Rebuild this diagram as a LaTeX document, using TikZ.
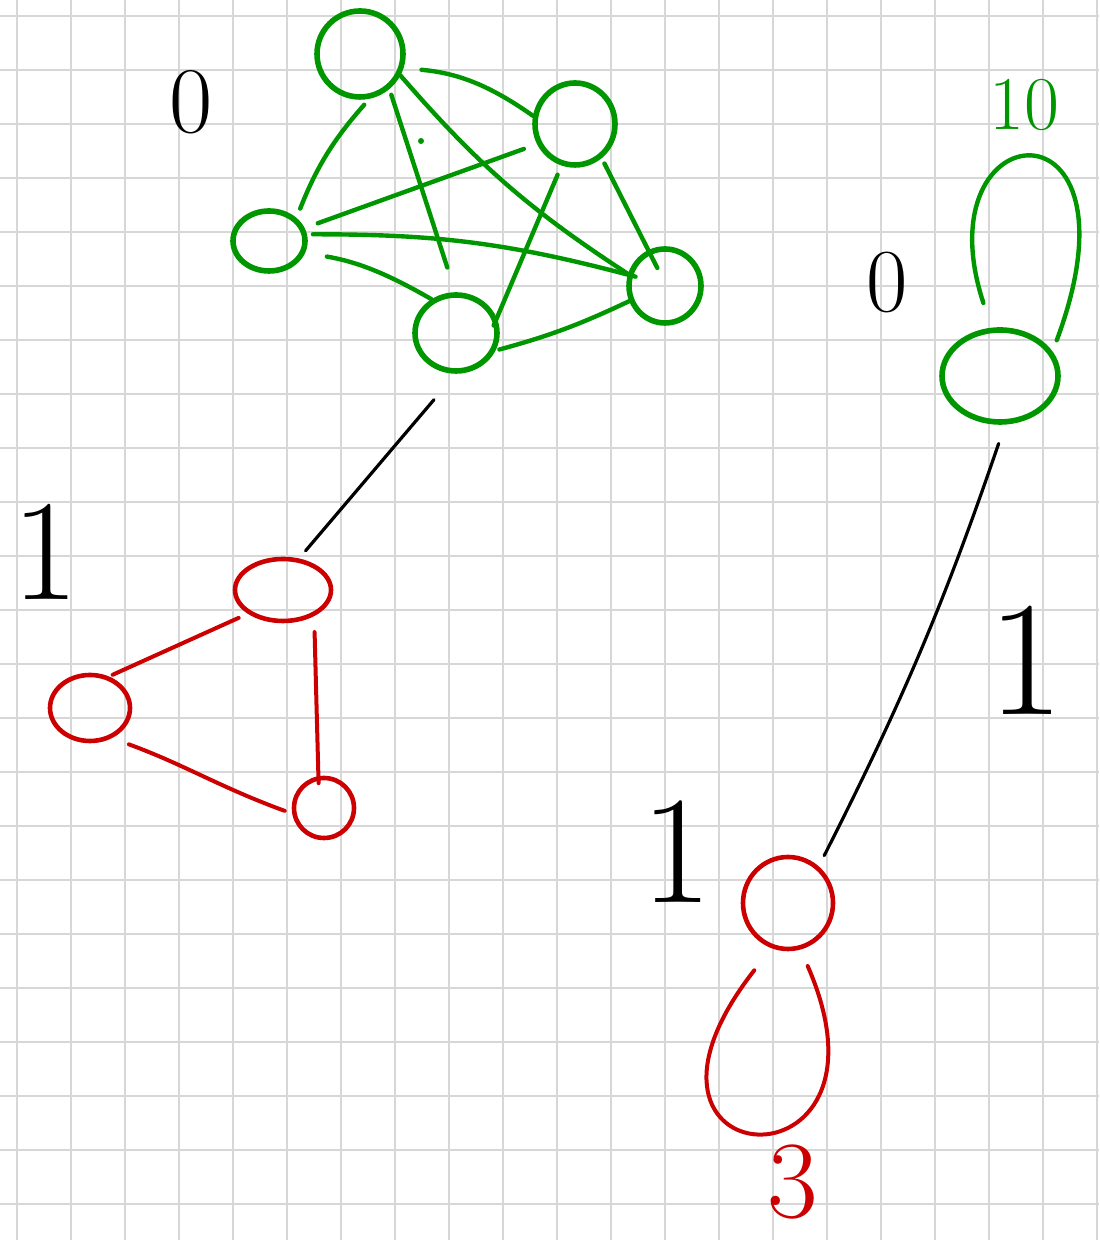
\documentclass[tikz,border=0pt]{standalone}
\usepackage{fontspec}
\usetikzlibrary{shapes.geometric}

\definecolor{pengreen}{RGB}{0,150,0}
\definecolor{penred}{RGB}{204,0,0}
\definecolor{paperline}{RGB}{215,215,215}

\begin{document}
\begin{tikzpicture}[x=0.5pt, y=0.5pt,
    gvert/.style={draw=pengreen, line width=2.8pt, ellipse, inner sep=0pt},
    rvert/.style={draw=penred, line width=2.3pt, ellipse, inner sep=0pt},
    gline/.style={pengreen, line width=2.2pt, line cap=round},
    rline/.style={penred, line width=2pt, line cap=round},
    kline/.style={black, line width=1.6pt, line cap=round},
    digit/.style={inner sep=0pt, font=\fontsize{#1}{#1}\selectfont}]

    \useasboundingbox (0,0) rectangle (1099,1240);
    % squared paper
    \foreach \x in {17,71,...,1097} \draw[paperline, line width=1pt] (\x,0) -- (\x,1240);
    \foreach \y in {36,90,...,1224} \draw[paperline, line width=1pt] (0,\y) -- (1099,\y);

    % complete graph, level 0
    \node[gvert, minimum width=43pt, minimum height=43pt] (a1) at (360,1186) {};
    \node[gvert, minimum width=40pt, minimum height=41pt] (a2) at (575,1116) {};
    \node[gvert, minimum width=36pt, minimum height=30pt] (a3) at (269,999) {};
    \node[gvert, minimum width=41pt, minimum height=38pt] (a4) at (456,907) {};
    \node[gvert, minimum width=36pt, minimum height=37pt] (a5) at (665,954) {};

    \draw[gline, shorten <=4pt, shorten >=5pt] (a1.282) to[bend right=10] (a3.40);
    \draw[gline, shorten <=3pt, shorten >=13pt] (a1.310) -- (a4.91);
    \draw[gline] (a1.332) to[bend right=8] (a5.162);
    \draw[gline, shorten <=9pt] (a1.342) to[bend left=15] (a2.169);
    \draw[gline, shorten <=7pt, shorten >=7pt] (a2.208) -- (a3.20);
    \draw[gline, shorten <=5pt, shorten >=-4pt] (a2.252) -- (a4.20);
    \draw[gline, shorten <=3pt, shorten >=-10pt] (a2.308) -- (a5.115);
    \draw[gline, shorten <=3pt, shorten >=-4pt] (a3.10) to[out=0, in=165] (a5.163);
    \draw[gline, shorten <=11pt] (a3.342) to[out=-10, in=150] (a4.126);
    \draw[gline, shorten <=2pt] (a4.336) to[bend right=5] (a5.203);
    \fill[pengreen] (421,1099) circle (3);

    % triangle, level 1
    \node[rvert, minimum width=48pt, minimum height=31pt] (b1) at (283,650) {};
    \node[rvert, minimum width=40pt, minimum height=33pt] (b2) at (90,532) {};
    \node[rvert, minimum width=30pt, minimum height=30pt] (b3) at (324,432) {};

    \draw[rline, shorten <=5pt, shorten >=2pt] (b1.214) -- (b2.59);
    \draw[rline, shorten <=8pt, shorten >=-3.5pt] (b1.320) -- (b3.100);
    \draw[rline, shorten <=9pt, shorten >=4pt] (b2.-54) to[out=-20, in=160] (b3.190);

    \draw[kline, shorten <=17pt, shorten >=5pt] (a4.270) -- (b1.63);

    % single vertex with loop
    \node[gvert, minimum width=58pt, minimum height=46pt] (c1) at (1000,864) {};
    \node[rvert, minimum width=45pt, minimum height=46pt] (c2) at (788,337) {};

    \draw[gline, shorten <=13pt, shorten >=6pt] (c1.100) .. controls (920,1130) and (1150,1150) .. (c1.25);
    \draw[rline, shorten <=14pt, shorten >=9pt] (c2.250) .. controls (590,60) and (910,40) .. (c2.285);
    \draw[kline, shorten <=10pt, shorten >=6pt] (c1.276) to[bend left=4] (c2.50);

    % numbers
    \node[digit=47] (n0) at (191,1138) {0};
    \node[digit=72] (n1) at (46,688) {1};
    \node[digit=38, text=pengreen] (n10) at (1024,1135) {10};
    \node[digit=45] (m0) at (887,958) {0};
    \node[digit=82] (m1) at (1026,580) {1};
    \node[digit=77] (m2) at (677,388) {1};
    \node[digit=55, text=penred] (m3) at (793,58) {3};
\end{tikzpicture}
\end{document}
